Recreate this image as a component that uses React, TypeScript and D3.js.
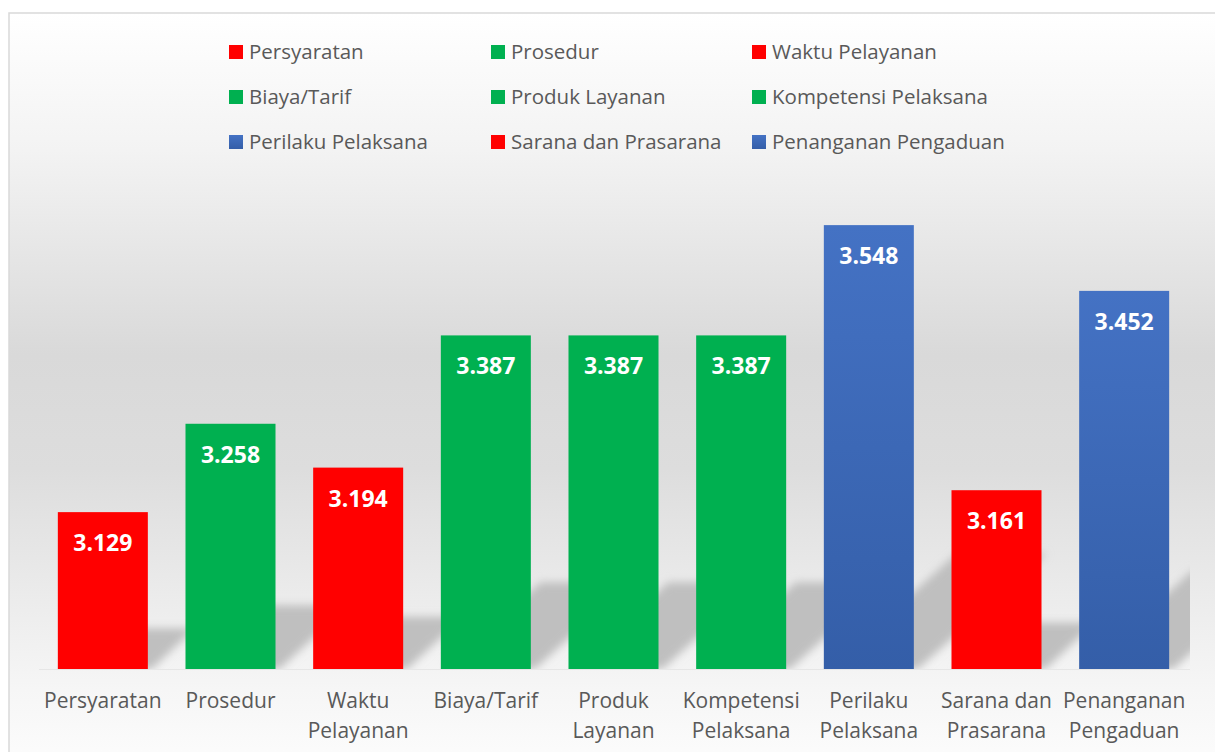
import React from "react";
import * as d3 from "d3";

const categories = [
  "Persyaratan",
  "Prosedur",
  "Waktu Pelayanan",
  "Biaya/Tarif",
  "Produk Layanan",
  "Kompetensi Pelaksana",
  "Perilaku Pelaksana",
  "Sarana dan Prasarana",
  "Penanganan Pengaduan",
];
const axisLabelLines = [
  ["Persyaratan"],
  ["Prosedur"],
  ["Waktu", "Pelayanan"],
  ["Biaya/Tarif"],
  ["Produk", "Layanan"],
  ["Kompetensi", "Pelaksana"],
  ["Perilaku", "Pelaksana"],
  ["Sarana dan", "Prasarana"],
  ["Penanganan", "Pengaduan"],
];
const values = [3.129, 3.258, 3.194, 3.387, 3.387, 3.387, 3.548, 3.161, 3.452];
const colorGroups = ["red", "green", "red", "green", "green", "green", "blue", "red", "blue"];
const yDomain = [2.9, 3.6];

const W = 1215;
const H = 752;
const plotLeft = 39;
const plotRight = 1188;
const plotTop = 189.5;
const plotBottom = 669;

const fills: Record<string, string> = {
  red: "#ff0000",
  green: "#00b050",
  blue: "url(#blueGrad)",
};

export default function App() {
  const x = d3
    .scaleBand<string>()
    .domain(categories)
    .range([plotLeft, plotRight])
    .paddingInner(0.295)
    .paddingOuter(0.1475);
  const y = d3.scaleLinear().domain(yDomain).range([plotBottom, plotTop]);
  const bw = x.bandwidth();

  const legendCols = [229, 491, 752];
  const legendRows = [52, 97, 142];

  return (
    <svg
      width={W}
      height={H}
      style={{ position: "absolute", left: 0, top: 0, display: "block" }}
      fontFamily="'Open Sans', Lato, sans-serif"
    >
      <defs>
        <linearGradient id="bgGrad" x1="0" y1="0" x2="0" y2="1">
          <stop offset="0" stopColor="#ffffff" />
          <stop offset="0.18" stopColor="#f3f3f3" />
          <stop offset="0.45" stopColor="#d9d9d9" />
          <stop offset="0.6" stopColor="#dddddd" />
          <stop offset="0.74" stopColor="#e9e9e9" />
          <stop offset="0.89" stopColor="#f6f6f6" />
          <stop offset="1" stopColor="#fdfdfd" />
        </linearGradient>
        <linearGradient id="blueGrad" x1="0" y1="0" x2="0" y2="1">
          <stop offset="0" stopColor="#4472c4" />
          <stop offset="1" stopColor="#345ea8" />
        </linearGradient>
        <filter id="blur" x="-50%" y="-50%" width="200%" height="200%">
          <feGaussianBlur stdDeviation="4.5" />
        </filter>
        <clipPath id="plotClip">
          <rect x={plotLeft} y={0} width={1190 - plotLeft} height={plotBottom} />
        </clipPath>
      </defs>

      <rect x={9} y={13} width={1220} height={760} fill="url(#bgGrad)" stroke="#d9d9d9" strokeWidth={1.5} />

      {/* legend */}
      {categories.map((c, i) => {
        const cx = legendCols[i % 3];
        const cy = legendRows[Math.floor(i / 3)];
        return (
          <g key={"lg" + i}>
            <rect x={cx} y={cy - 7} width={14} height={14} fill={fills[colorGroups[i]]} />
            <text x={cx + 20} y={cy} dy="0.35em" fontSize={20.5} fill="#595959">
              {c}
            </text>
          </g>
        );
      })}

      {/* shadows */}
      <g clipPath="url(#plotClip)">
        <g filter="url(#blur)">
          {categories.map((c, i) => {
            const x0 = x(c)!;
            const x1 = x0 + bw;
            const h = plotBottom - y(values[i]);
            const sh = 0.26 * h;
            const k = 1.15;
            const pts = [
              [x0 + 4, plotBottom],
              [x1 + 4, plotBottom],
              [x1 + k * sh, plotBottom - sh],
              [x0 + k * sh, plotBottom - sh],
            ];
            return <polygon key={"sh" + i} points={pts.map((p) => p.join(",")).join(" ")} fill="#bfbfbf" />;
          })}
        </g>
      </g>

      <line x1={plotLeft} x2={1190} y1={plotBottom + 0.5} y2={plotBottom + 0.5} stroke="#e6e6e6" strokeWidth={1} />

      {/* bars */}
      {categories.map((c, i) => (
        <rect
          key={"b" + i}
          x={x(c)}
          y={y(values[i])}
          width={bw}
          height={plotBottom - y(values[i])}
          fill={fills[colorGroups[i]]}
        />
      ))}

      {/* value labels */}
      {categories.map((c, i) => (
        <text
          key={"v" + i}
          x={x(c)! + bw / 2}
          y={y(values[i]) + 39}
          textAnchor="middle"
          fontSize={23}
          fontWeight="bold"
          fill="#ffffff"
        >
          {values[i].toFixed(3)}
        </text>
      ))}

      {/* category labels */}
      {categories.map((c, i) => (
        <text key={"c" + i} textAnchor="middle" fontSize={21} fill="#595959">
          {axisLabelLines[i].map((ln, j) => (
            <tspan key={j} x={x(c)! + bw / 2} y={708 + j * 30}>
              {ln}
            </tspan>
          ))}
        </text>
      ))}
    </svg>
  );
}
